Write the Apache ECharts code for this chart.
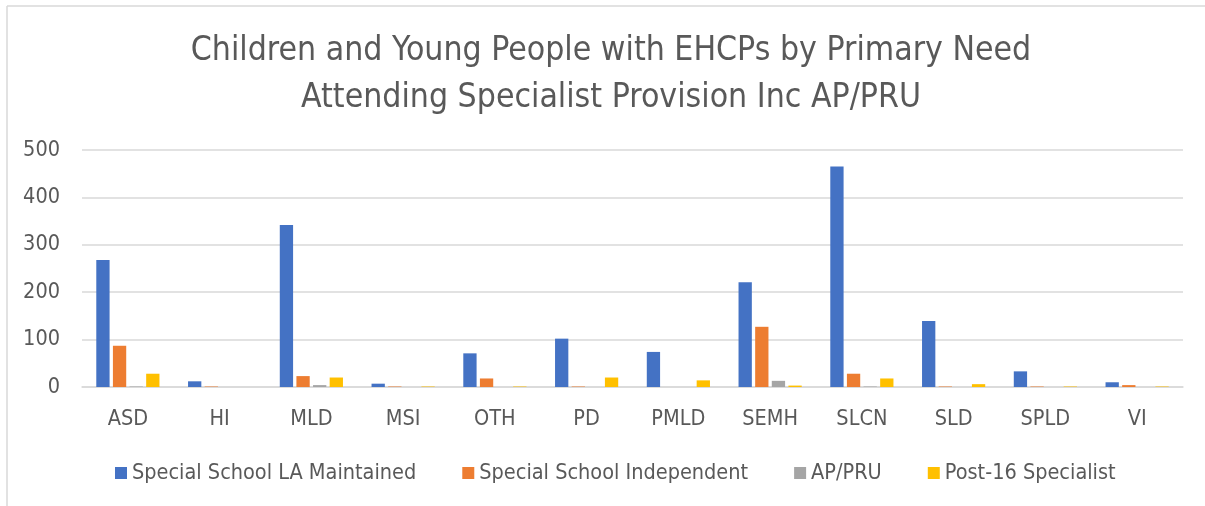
<!DOCTYPE html>
<html>
<head>
<meta charset="utf-8">
<script src="https://cdn.jsdelivr.net/npm/echarts@6/dist/echarts.min.js"></script>
<style>
html,body{margin:0;padding:0;background:#fff;}
#chart{width:1205px;height:506px;}
</style>
</head>
<body>
<div id="chart"></div>
<script>
const categories = ['ASD','HI','MLD','MSI','OTH','PD','PMLD','SEMH','SLCN','SLD','SPLD','VI'];
const seriesNames = ['Special School LA Maintained','Special School Independent','AP/PRU','Post-16 Specialist'];
const laMaintained = [268,12,342,7,71,102,74,221,465,139,33,10];
const independent = [87,1,23,1,18,1,0,127,28,1,1,4];
const apPru = [1,0,4,0,0,0,0,13,1,0,0,0];
const post16 = [28,0,20,1,1,20,14,3,18,6,1,1];
const yTicks = [0,100,200,300,400,500];
const titleLines = ['Children and Young People with EHCPs by Primary Need','Attending Specialist Provision Inc AP/PRU'];

const FONT = '"DejaVu Sans Condensed","Liberation Sans Narrow","Open Sans",sans-serif';
const colors = ['#4472C4','#ED7D31','#A5A5A5','#FFC000'];
const seriesData = [laMaintained, independent, apPru, post16];

const chart = echarts.init(document.getElementById('chart'), null, {renderer:'canvas'});
chart.setOption({
  animation:false,
  backgroundColor:'#ffffff',
  color: colors,
  textStyle:{fontFamily:FONT},
  graphic:[
    {type:'line', shape:{x1:7, y1:6, x2:1205, y2:6}, style:{stroke:'#d9d9d9', lineWidth:1.5}, silent:true},
    {type:'line', shape:{x1:7, y1:6, x2:7, y2:506}, style:{stroke:'#d9d9d9', lineWidth:1.5}, silent:true},
    {type:'text', x:611, y:51, style:{text:titleLines[0], fill:'#595959', font:'33.5px '+FONT, textAlign:'center', textVerticalAlign:'middle'}},
    {type:'text', x:611, y:98, style:{text:titleLines[1], fill:'#595959', font:'33.5px '+FONT, textAlign:'center', textVerticalAlign:'middle'}}
  ],
  legend:{
    data: seriesNames,
    left:110, top:457,
    icon:'rect', itemWidth:12, itemHeight:12, itemGap:46,
    textStyle:{color:'#595959', fontSize:21.5, fontFamily:FONT}
  },
  grid:{left:82, right:22, top:150, bottom:119, containLabel:false},
  xAxis:{
    type:'category', data:categories,
    axisLine:{show:true, lineStyle:{color:'#d9d9d9', width:1.5}},
    axisTick:{show:false},
    axisLabel:{color:'#595959', fontSize:21.5, margin:21, fontFamily:FONT, interval:0}
  },
  yAxis:{
    type:'value', min:yTicks[0], max:yTicks[yTicks.length-1], interval:100,
    axisLine:{show:false}, axisTick:{show:false},
    axisLabel:{color:'#595959', fontSize:21.5, margin:22, fontFamily:FONT},
    splitLine:{lineStyle:{color:'#d9d9d9', width:1.5}}
  },
  series: seriesNames.map((n,i)=>({
    name:n, type:'bar', data:seriesData[i],
    barWidth:13.3, barGap:'25%', barCategoryGap:'31%',
    itemStyle:{color:colors[i]}
  }))
});
</script>
</body>
</html>
